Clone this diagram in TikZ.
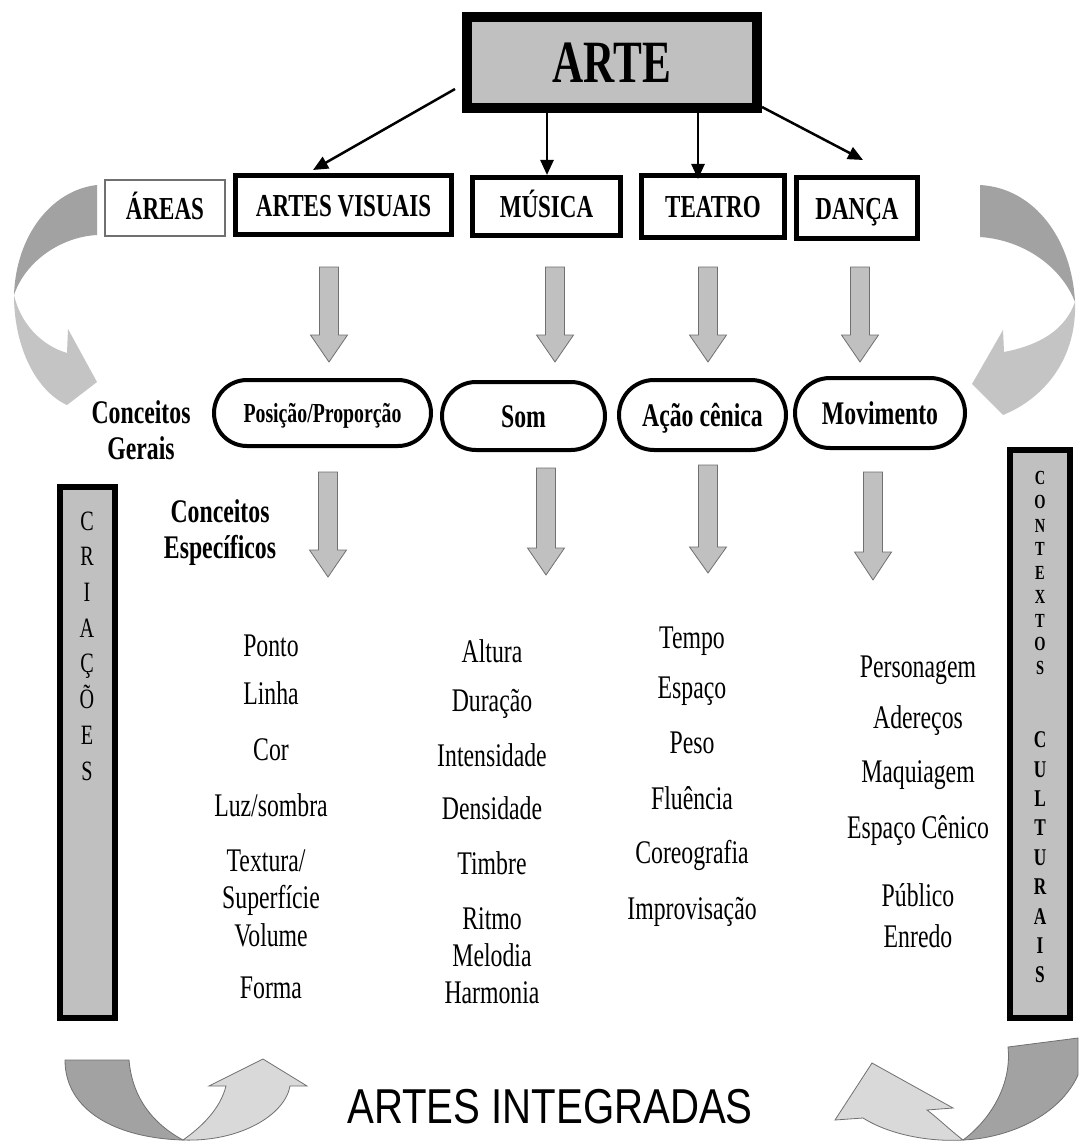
\documentclass[tikz,border=0pt]{standalone}
\usepackage{fontspec}
\setmainfont{Liberation Serif}[FakeStretch=0.72]
\newfontfamily\sansA{Liberation Sans}[FakeStretch=0.82]
\usetikzlibrary{shapes.misc,arrows.meta,calc}
\definecolor{boxgray}{HTML}{C0C0C0}
\definecolor{curvedark}{HTML}{A2A2A2}
\definecolor{curvelight}{HTML}{C4C4C4}
\definecolor{curvelighter}{HTML}{D9D9D9}
\definecolor{edgegray}{HTML}{707070}
\tikzset{
  artebox/.style={draw, line width=10pt, fill=boxgray, minimum width=290pt, minimum height=91pt,
    font=\bfseries\fontsize{60}{64}\selectfont, text height=40pt, text depth=0pt},
  areabox/.style={draw, line width=5pt, inner sep=0pt,
    font=\bfseries\fontsize{32}{36}\selectfont, text height=22pt, text depth=0pt},
  areathin/.style={areabox, line width=1.5pt, draw=edgegray},
  ovalbox/.style={rounded rectangle, draw, line width=4pt, inner sep=0pt,
    font=\bfseries\fontsize{33}{36}\selectfont, text height=22pt, text depth=0pt},
  conn/.style={line width=2.5pt, -{Triangle[length=15pt,width=13pt]}},
  blockar/.style={fill=boxgray, draw=edgegray, line width=0.8pt},
  heading/.style={align=center, font=\bfseries\fontsize{33}{36}\selectfont},
  item/.style={anchor=base, inner sep=0pt, font=\fontsize{33}{36}\selectfont},
  sidebar/.style={draw, line width=6pt, fill=boxgray},
  curvedk/.style={fill=curvedark},
  curvelt/.style={fill=curvelight},
  curvedkb/.style={fill=curvedark, draw=edgegray, line width=0.8pt},
  curveltb/.style={fill=curvelighter, draw=edgegray, line width=0.8pt}
}
\newcommand{\garrow}[4]{\draw[blockar] (#1-9.5,#2) -- (#1+9.5,#2) -- (#1+9.5,#3) -- (#1+18.5,#3) -- (#1,#4) -- (#1-18.5,#3) -- (#1-9.5,#3) -- cycle;}
\begin{document}
\begin{tikzpicture}[x=1pt,y=-1pt]
\useasboundingbox (0,0) rectangle (1078,1142);
\fill[white] (0,0) rectangle (1078,1142);

% top
\node[artebox] (arte) at (612,62.5) {ARTE};
\node[areathin, minimum width=120pt, minimum height=56pt] (areas) at (165,208) {ÁREAS};
\node[areabox, minimum width=216pt, minimum height=59pt] (av) at (343.5,205) {ARTES VISUAIS};
\node[areabox, minimum width=148pt, minimum height=58pt] (mus) at (546.5,206.5) {MÚSICA};
\node[areabox, minimum width=143pt, minimum height=62pt] (tea) at (713,206.5) {TEATRO};
\node[areabox, minimum width=121pt, minimum height=61pt] (dan) at (857,208) {DANÇA};

\draw[conn] ([xshift=-7pt,yshift=-26.5pt]arte.west) -- ([xshift=-30.5pt,yshift=3pt]av.north);
\draw[conn] ([xshift=-65pt]arte.south) -- ([xshift=0.5pt]mus.north);
\draw[conn] ([xshift=86pt]arte.south) -- ([xshift=-15pt,yshift=-6pt]tea.north);
\draw[conn] ([yshift=6pt]arte.south east) -- ([xshift=6pt,yshift=15pt]dan.north);

% first row of block arrows
\garrow{329}{267}{335}{362}
\garrow{555}{267}{335}{362}
\garrow{708}{267}{335}{362}
\garrow{860}{267}{335}{362}

% general concepts
\node[heading] (cg) at (141,430) {Conceitos\\Gerais};
\node[ovalbox, minimum width=217pt, minimum height=66pt, font=\bfseries\fontsize{27.5}{30}\selectfont, text height=18pt] (pos) at (322.5,413) {Posição/Proporção};
\node[ovalbox, minimum width=163pt, minimum height=68pt] (som) at (523.5,416) {Som};
\node[ovalbox, minimum width=167pt, minimum height=70pt] (acao) at (702.5,415) {Ação cênica};
\node[ovalbox, minimum width=170pt, minimum height=70pt] (mov) at (880,413) {Movimento};

% second row of block arrows
\garrow{328}{472}{550}{577}
\garrow{546}{468}{548}{575}
\garrow{708}{465}{547}{573}
\garrow{873}{472}{552}{580}

\node[heading] (ce) at (220,533) {Conceitos\\Específicos};

% side bars
\node[sidebar, minimum width=55pt, minimum height=531pt] (cri) at (87.5,752.5) {};
\node[align=center, inner sep=0pt, font=\fontsize{28}{35.7}\selectfont] (crit) at (87,646) {C\\R\\I\\A\\Ç\\Õ\\E\\S};
\node[sidebar, minimum width=60pt, minimum height=568pt] (ctx) at (1040,734) {};
\node[align=center, inner sep=0pt, font=\bfseries\fontsize{20}{23.75}\selectfont] (ctxa) at (1040,573) {C\\O\\N\\T\\E\\X\\T\\O\\S};
\node[align=center, inner sep=0pt, font=\bfseries\fontsize{24}{29.4}\selectfont] (ctxb) at (1040,857.5) {C\\U\\L\\T\\U\\R\\A\\I\\S};

% column 1
\node[item] (c1a) at (271,656) {Ponto};
\node[item] (c1b) at (271,704) {Linha};
\node[item] (c1c) at (271,760) {Cor};
\node[item] (c1d) at (271,816) {Luz/sombra};
\node[item] (c1e) at (266,871) {Textura/};
\node[item] (c1f) at (271,908) {Superfície};
\node[item] (c1g) at (271,946) {Volume};
\node[item] (c1h) at (271,998) {Forma};
% column 2
\node[item] (c2a) at (492,662) {Altura};
\node[item] (c2b) at (492,711) {Duração};
\node[item] (c2c) at (492,766) {Intensidade};
\node[item] (c2d) at (492,819) {Densidade};
\node[item] (c2e) at (492,874) {Timbre};
\node[item] (c2f) at (492,929) {Ritmo};
\node[item] (c2g) at (492,966) {Melodia};
\node[item] (c2h) at (492,1003) {Harmonia};
% column 3
\node[item] (c3a) at (692,648) {Tempo};
\node[item] (c3b) at (692,698) {Espaço};
\node[item] (c3c) at (692,753) {Peso};
\node[item] (c3d) at (692,809) {Fluência};
\node[item] (c3e) at (692,863) {Coreografia};
\node[item] (c3f) at (692,919) {Improvisação};
% column 4
\node[item] (c4a) at (918,677) {Personagem};
\node[item] (c4b) at (918,728) {Adereços};
\node[item] (c4c) at (918,782) {Maquiagem};
\node[item] (c4d) at (918,838) {Espaço Cênico};
\node[item] (c4e) at (918,906) {Público};
\node[item] (c4f) at (918,947) {Enredo};

% bottom title
\node[inner sep=0pt, font=\sansA\fontsize{49}{52}\selectfont] (ai) at (550,1107) {ARTES INTEGRADAS};

% curved arrows: top left
\fill[curvedk] (97,185) .. controls (52,190) and (16,235) .. (14,295) .. controls (25,262) and (60,237) .. (97,235) -- cycle;
\fill[curvelt] (14,295) .. controls (14,350) and (38,392) .. (67,405) -- (97,382) -- (68,329) -- (67,353) .. controls (40,345) and (20,322) .. (14,295) -- cycle;
% top right
\fill[curvedk] (980,185) .. controls (1035,188) and (1072,240) .. (1075,302) .. controls (1062,268) and (1025,240) .. (980,237) -- cycle;
\fill[curvelt] (1075,302) .. controls (1077,358) and (1045,398) .. (1003,415) -- (972,384) -- (1003,330) -- (1004,352) .. controls (1040,345) and (1065,330) .. (1075,302) -- cycle;
% bottom left
\filldraw[curvedkb] (65,1060) -- (129,1060) .. controls (132,1095) and (150,1122) .. (183,1140) .. controls (115,1138) and (65,1110) .. (65,1060) -- cycle;
\filldraw[curveltb] (183,1140) .. controls (240,1142) and (285,1115) .. (290,1086) -- (307,1086) -- (263,1059) -- (209,1086) -- (226,1086) .. controls (220,1110) and (200,1128) .. (183,1140) -- cycle;
% bottom right
\filldraw[curvedkb] (1008,1047) -- (1078,1038) -- (1078,1075) .. controls (1060,1115) and (1010,1138) .. (963,1140) .. controls (990,1120) and (1012,1085) .. (1008,1047) -- cycle;
\filldraw[curveltb] (963,1140) .. controls (930,1142) and (890,1135) .. (863,1118) -- (835,1120) -- (872,1063) -- (953,1108) -- (927,1110) .. controls (940,1120) and (950,1130) .. (963,1140) -- cycle;
\end{tikzpicture}
\end{document}
